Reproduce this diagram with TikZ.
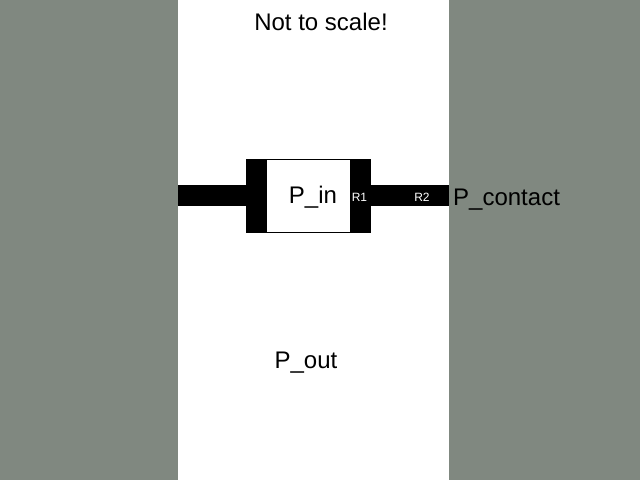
\documentclass[tikz,border=0pt]{standalone}
\usepackage{fontspec}
\setmainfont{Liberation Sans}
\definecolor{bggray}{RGB}{128,136,128}
\usepackage{tikz}

\begin{document}
\begin{tikzpicture}[x=1pt, y=-1pt,
    bigtext/.style={font=\fontsize{24}{28}\selectfont, inner sep=0pt, anchor=base},
    smalltext/.style={font=\fontsize{12}{14}\selectfont, text=white, inner sep=0pt, anchor=base}]
    %% Background: gray sides, white strip
    \fill[bggray] (0,0) rectangle (640,480);
    \fill[white] (178,0) rectangle (449,480);
    \useasboundingbox (0,0) rectangle (640,480);

    %% Left lead (black)
    \fill[black] (178,185) rectangle (246,206);
    %% Body: black block with white window
    \fill[black] (246,159) rectangle (371,233);
    \fill[white] (266.5,160) rectangle (350,232);
    %% Right lead (black), runs to the edge of the strip
    \fill[black] (371,185) rectangle (449,206);

    %% Labels
    \node[bigtext] (title) at (321,30) {Not to scale!};
    \node[bigtext] (pin) at (313,203) {P\_in};
    \node[smalltext] (r1) at (359.5,201.5) {R1};
    \node[smalltext] (r2) at (422,201.5) {R2};
    \node[bigtext, anchor=base west] (pcontact) at (453,205) {P\_contact};
    \node[bigtext] (pout) at (306,368) {P\_out};

\end{tikzpicture}
\end{document}
